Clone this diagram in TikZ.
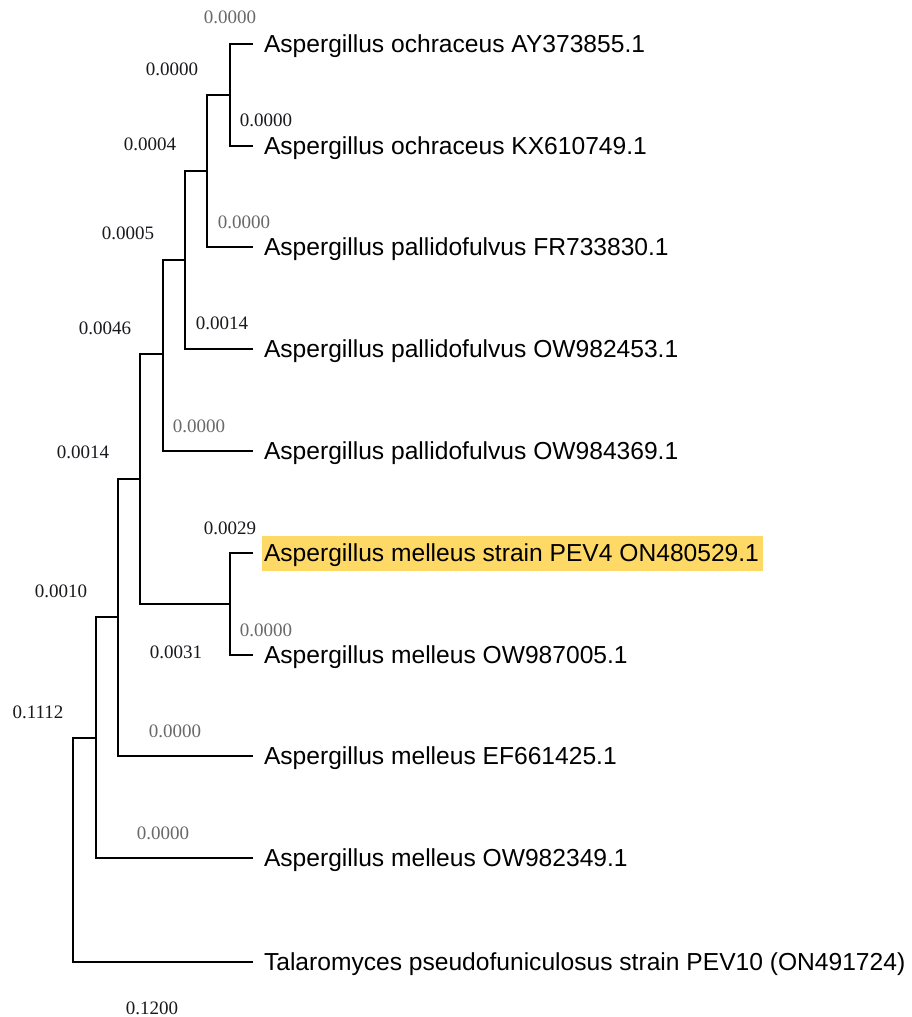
\documentclass[tikz,border=0pt]{standalone}
\usepackage{fontspec}
\setmainfont{Liberation Serif}
\setsansfont{Liberation Sans}
\definecolor{hilite}{RGB}{255,217,102}
\definecolor{lenpale}{RGB}{105,105,105}
\definecolor{lendark}{RGB}{25,25,30}

\begin{document}
\begin{tikzpicture}[x=1pt,y=-1pt,
    branch/.style={line width=2.6pt},
    taxon/.style={anchor=west, font=\sffamily\fontsize{24.6}{28}\selectfont,
        inner xsep=2pt, outer xsep=9pt, inner ysep=8pt,
        text height=18pt, text depth=1pt},
    len/.style={font=\fontsize{19}{22}\selectfont, text=lendark, inner sep=0pt},
    lenzero/.style={len, text=lenpale}]
\useasboundingbox (0,0) rectangle (911,1017);

% internal nodes
\coordinate (n1) at (230,95);
\coordinate (n2) at (207,171);
\coordinate (n3) at (185,260);
\coordinate (n4) at (163,354);
\coordinate (n5) at (140,479);
\coordinate (n6) at (230,604);
\coordinate (n7) at (118,617);
\coordinate (n8) at (96,738);
\coordinate (root) at (73,850);

% taxa
\node[taxon] (t1) at (253,44) {Aspergillus ochraceus AY373855.1};
\node[taxon] (t2) at (253,146) {Aspergillus ochraceus KX610749.1};
\node[taxon] (t3) at (253,247) {Aspergillus pallidofulvus FR733830.1};
\node[taxon] (t4) at (253,349) {Aspergillus pallidofulvus OW982453.1};
\node[taxon] (t5) at (253,451) {Aspergillus pallidofulvus OW984369.1};
\node[taxon, fill=hilite] (t6) at (253,553) {Aspergillus melleus strain PEV4 ON480529.1\kern2pt};
\node[taxon] (t7) at (253,655) {Aspergillus melleus OW987005.1};
\node[taxon] (t8) at (253,756) {Aspergillus melleus EF661425.1};
\node[taxon] (t9) at (253,858) {Aspergillus melleus OW982349.1};
\node[taxon] (t10) at (253,962) {Talaromyces pseudofuniculosus strain PEV10 (ON491724)};

% branches
\draw[branch] (n1) |- (t1.west);
\draw[branch] (n1) |- (t2.west);
\draw[branch] (n2) |- (n1);
\draw[branch] (n2) |- (t3.west);
\draw[branch] (n3) |- (n2);
\draw[branch] (n3) |- (t4.west);
\draw[branch] (n4) |- (n3);
\draw[branch] (n4) |- (t5.west);
\draw[branch] (n6) |- (t6.west);
\draw[branch] (n6) |- (t7.west);
\draw[branch] (n5) |- (n4);
\draw[branch] (n5) |- (n6);
\draw[branch] (n7) |- (n5);
\draw[branch] (n7) |- (t8.west);
\draw[branch] (n8) |- (n7);
\draw[branch] (n8) |- (t9.west);
\draw[branch] (root) |- (n8);
\draw[branch] (root) |- (t10.west);

% branch lengths
\node[lenzero] (b1) at (230,17) {0.0000};
\node[len] (b2) at (172,69) {0.0000};
\node[len] (b3) at (266,120) {0.0000};
\node[len] (b4) at (150,144) {0.0004};
\node[lenzero] (b5) at (244,222) {0.0000};
\node[len] (b6) at (128,233) {0.0005};
\node[len] (b7) at (105,328) {0.0046};
\node[len] (b8) at (222,323) {0.0014};
\node[lenzero] (b9) at (199,426) {0.0000};
\node[len] (b10) at (83,452) {0.0014};
\node[len] (b11) at (230,528) {0.0029};
\node[len] (b12) at (61,591) {0.0010};
\node[lenzero] (b13) at (266,630) {0.0000};
\node[len] (b14) at (176,652) {0.0031};
\node[len] (b15) at (38,712) {0.1112};
\node[lenzero] (b16) at (175,731) {0.0000};
\node[lenzero] (b17) at (163,833) {0.0000};
\node[len] (b18) at (152,1008) {0.1200};
\end{tikzpicture}
\end{document}
